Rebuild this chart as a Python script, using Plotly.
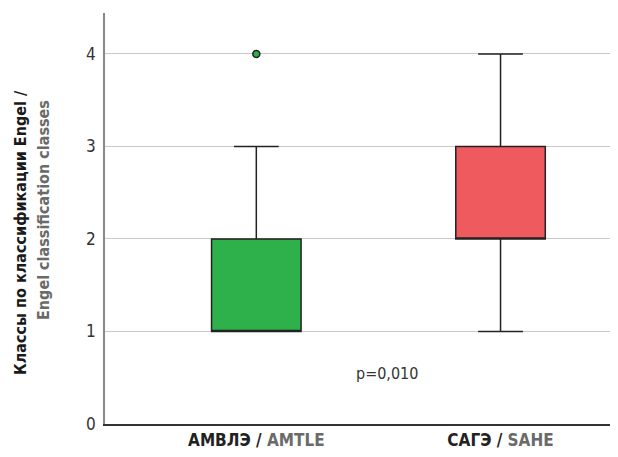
import plotly.graph_objects as go

# Data
groups = ["АМВЛЭ", "САГЭ"]
groups_en = ["AMTLE", "SAHE"]
positions = [0, 1]
q1 = [1, 2]
median = [1, 2]
q3 = [2, 3]
lower = [1, 1]
upper = [3, 4]
outlier_group = [0]
outlier_value = [4]
colors = ["#2eb14a", "#ee5a5e"]
p_text = "p=0,010"

FONT = "Liberation Sans Narrow, DejaVu Sans Condensed, Roboto, sans-serif"

fig = go.Figure()
for i in range(len(groups)):
    fig.add_trace(go.Box(
        x=[positions[i]], q1=[q1[i]], median=[median[i]], q3=[q3[i]],
        lowerfence=[lower[i]], upperfence=[upper[i]],
        width=0.3665, whiskerwidth=0.5,
        fillcolor=colors[i], line=dict(color="#222222", width=1.5),
        boxpoints=False, showlegend=False, hoverinfo="skip",
    ))

fig.add_trace(go.Scatter(
    x=outlier_group, y=outlier_value, mode="markers",
    marker=dict(color=colors[0], size=7, line=dict(color="#222222", width=1.5)),
    showlegend=False, hoverinfo="skip",
))

ticktext = [f"<b>{g} / <span style='color:#6a6a6a'>{e}</span></b>" for g, e in zip(groups, groups_en)]

fig.update_layout(
    width=602, height=441,
    margin=dict(l=97, r=0, t=5, b=25),
    paper_bgcolor="white", plot_bgcolor="white",
    font=dict(family=FONT, color="#333333", size=16),
    xaxis=dict(
        range=[-0.6196, 1.481 - 8 / 244.2], tickvals=positions, ticktext=ticktext,
        showgrid=False, zeroline=False, showline=True, linecolor="#333333", linewidth=1.5,
        ticks="", tickfont=dict(size=17, color="#222222", family=FONT),
    ),
    yaxis=dict(
        range=[0, 4.443], tickvals=[0, 1, 2, 3, 4],
        showgrid=True, gridcolor="#c8c8c8", gridwidth=1.3,
        zeroline=False, showline=True, linecolor="#888888", linewidth=1.5,
        ticks="", tickfont=dict(size=17, color="#333333", family=FONT),
        ticklabelstandoff=4,
    ),
    annotations=[
        dict(text=p_text, x=0.534, y=0.55, xref="x", yref="y", showarrow=False,
             font=dict(size=16, color="#333333", family=FONT)),
        dict(text="<b>Классы по классификации Engel /</b>", x=(20 - 105) / 505, y=(424 - 233) / 411,
             xref="paper", yref="paper", textangle=-90, showarrow=False,
             xanchor="center", yanchor="middle",
             font=dict(size=16, color="#1a1a1a", family=FONT)),
        dict(text="<b>Engel classification classes</b>", x=(43 - 105) / 505, y=(424 - 210) / 411,
             xref="paper", yref="paper", textangle=-90, showarrow=False,
             xanchor="center", yanchor="middle",
             font=dict(size=16, color="#6a6a6a", family=FONT)),
    ],
)

fig.write_html("out.html")
